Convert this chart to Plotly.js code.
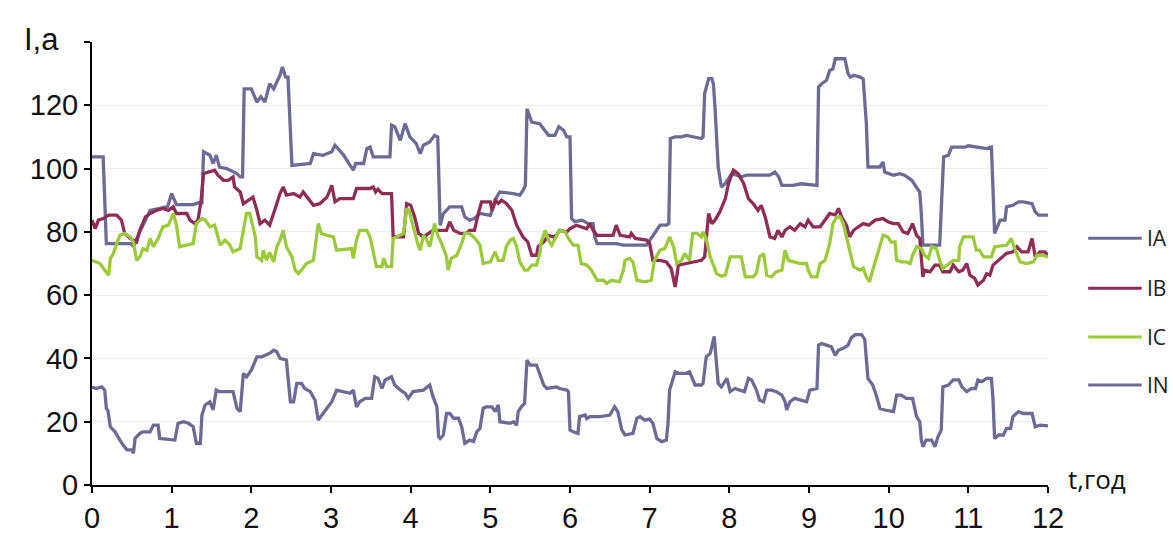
<!DOCTYPE html>
<html>
<head>
<meta charset="utf-8">
<script src="https://cdn.plot.ly/plotly-3.0.1.min.js"></script>
<style>html,body{margin:0;padding:0;background:#fff;}#chart{width:1173px;height:542px;}</style>
</head>
<body>
<div id="chart"></div>
<script>
// Series as [t (hours), current (A)] pairs
const seriesNames = ["IA", "IB", "IC", "IN"];
const seriesColors = ["#6b6b96", "#8e2d56", "#9bcb3b", "#6b6b96"];

const iaPoints = [[0,103.7],[0.14,103.7],[0.16,90],[0.18,76.3],[0.48,76.3],[0.52,75.5],[0.6,80],[0.73,86.8],[0.85,87.4],[0.95,88],[1.0,92.1],[1.06,88.6],[1.27,88.6],[1.34,89.2],[1.38,89.2],[1.4,105.3],[1.48,104.2],[1.52,101.6],[1.56,104.2],[1.6,100.5],[1.69,100],[1.77,98.9],[1.82,98.4],[1.86,97.4],[1.89,97.4],[1.91,125.2],[2.0,125.2],[2.07,121],[2.12,122.7],[2.17,121],[2.23,126.8],[2.28,125.2],[2.36,129.5],[2.39,132.1],[2.43,128.9],[2.46,128.9],[2.49,115],[2.51,101],[2.74,101.6],[2.78,104.7],[2.9,104.2],[3.01,105.3],[3.05,107.4],[3.1,105.8],[3.16,104.2],[3.24,101],[3.28,99.5],[3.31,101.6],[3.41,101.6],[3.45,106.3],[3.49,106.8],[3.53,103.7],[3.74,103.7],[3.76,113.7],[3.8,113.2],[3.87,108.9],[3.93,114.2],[3.99,110],[4.03,108.9],[4.07,107.9],[4.12,104.7],[4.16,107.4],[4.24,108.4],[4.3,110.5],[4.34,110],[4.37,82.1],[4.41,85.8],[4.49,87.9],[4.64,87.9],[4.68,84.7],[4.74,83.7],[4.8,84.2],[4.87,85.8],[5.0,85.2],[5.04,87.9],[5.08,91],[5.12,92.6],[5.29,92.1],[5.37,91.6],[5.41,93.1],[5.44,94.7],[5.46,118.9],[5.48,117.5],[5.52,114.7],[5.62,114.2],[5.67,112.6],[5.73,110.5],[5.81,110.5],[5.86,113.2],[5.92,112.1],[5.96,110],[6.0,110],[6.02,84.2],[6.06,83.2],[6.15,83.7],[6.23,82.6],[6.29,82.6],[6.31,78.4],[6.34,76.3],[6.58,76.3],[6.67,75.8],[6.96,75.8],[7.03,78.4],[7.09,80.5],[7.13,82.1],[7.21,82.1],[7.24,82.6],[7.26,109.5],[7.32,110],[7.4,110],[7.46,110.5],[7.65,109.5],[7.67,110],[7.69,123.7],[7.74,128.4],[7.78,128.4],[7.8,126.8],[7.82,119.5],[7.86,100.5],[7.9,94.2],[7.95,95.3],[8.03,98.4],[8.15,97.4],[8.22,97.9],[8.51,97.9],[8.57,98.9],[8.62,97.4],[8.66,94.7],[8.8,94.7],[8.9,95.2],[9.1,94.7],[9.12,125.8],[9.16,126.8],[9.22,127.9],[9.26,131],[9.3,131.5],[9.33,134.7],[9.45,134.7],[9.47,132.6],[9.49,130],[9.52,128.9],[9.56,129.5],[9.64,128.9],[9.68,128.4],[9.72,114.2],[9.74,100.5],[9.89,100.5],[9.93,102.1],[9.95,98.9],[10.06,97.9],[10.14,98.4],[10.2,97.9],[10.29,96.3],[10.35,94.2],[10.39,92.6],[10.41,85.8],[10.43,75.8],[10.64,75.8],[10.67,90],[10.69,103.7],[10.75,104.2],[10.79,106.8],[10.96,106.8],[11.0,107.2],[11.23,106.3],[11.29,106.8],[11.31,93.1],[11.33,79.5],[11.4,83.7],[11.46,83.7],[11.48,87.9],[11.56,88.4],[11.63,89.5],[11.69,89.5],[11.8,88.9],[11.84,86.3],[11.88,85.3],[12.0,85.3]];

const ibPoints = [[0,83.7],[0.04,81],[0.08,83.7],[0.14,84.2],[0.21,85.3],[0.31,85.3],[0.37,83.7],[0.41,79.5],[0.48,77.9],[0.56,76.8],[0.6,80.5],[0.67,84.7],[0.73,85.8],[0.81,86.8],[0.89,87.4],[0.96,86.8],[1.02,87.9],[1.06,85.8],[1.19,85.8],[1.23,83.7],[1.29,82.6],[1.33,83.7],[1.37,90],[1.4,98.4],[1.46,98.9],[1.54,99.5],[1.58,97.9],[1.65,96.3],[1.71,96.3],[1.77,97.4],[1.79,94.2],[1.86,92.6],[1.9,88.9],[1.96,90],[2.02,91],[2.07,86.8],[2.11,82.6],[2.17,83.7],[2.23,82.1],[2.3,87.4],[2.36,92.1],[2.4,94.2],[2.44,91.6],[2.53,92.1],[2.61,91],[2.65,92.6],[2.71,90.5],[2.78,88.4],[2.86,88.9],[2.95,91],[3.01,94.7],[3.05,89.5],[3.11,90.5],[3.28,90.5],[3.32,93.7],[3.49,93.7],[3.53,94.2],[3.56,92.6],[3.59,93.5],[3.64,92.1],[3.76,92.1],[3.78,78.4],[3.91,78.4],[3.95,88.9],[4.0,88.4],[4.05,84.7],[4.1,79.5],[4.16,78.4],[4.28,80.5],[4.45,80.5],[4.49,83.2],[4.54,80.5],[4.62,79.5],[4.7,79.5],[4.74,80.5],[4.8,80.5],[4.85,85.8],[4.89,89.5],[5.0,89.5],[5.02,86.8],[5.06,90],[5.1,89],[5.14,90],[5.2,89],[5.27,86.8],[5.33,82.1],[5.41,78.4],[5.47,76.8],[5.52,72.6],[5.58,72.6],[5.6,75.3],[5.67,76.8],[5.73,78.9],[5.79,78.4],[5.83,78.9],[5.87,80.5],[5.96,80],[6.0,81],[6.08,82.1],[6.14,81.6],[6.21,81],[6.25,82.6],[6.29,80.5],[6.34,78.9],[6.54,78.9],[6.58,82.1],[6.63,78.9],[6.75,78.4],[6.77,79.5],[6.82,77.9],[6.96,77.4],[7.0,76.3],[7.04,71],[7.13,71],[7.21,70.5],[7.27,68.4],[7.32,62.6],[7.34,65.8],[7.36,69.5],[7.46,70],[7.55,70.5],[7.65,71],[7.69,72.1],[7.74,85.8],[7.78,82.6],[7.82,83.7],[7.88,86.3],[7.95,90.5],[7.99,95.3],[8.05,99.5],[8.11,98.4],[8.18,95.3],[8.24,90.5],[8.3,88.9],[8.36,86.8],[8.4,88.4],[8.45,84.7],[8.49,80.5],[8.51,78.4],[8.57,77.9],[8.61,80.5],[8.66,78.4],[8.7,80.5],[8.76,81.6],[8.82,80.5],[8.89,82.6],[8.95,81.6],[8.99,83.7],[9.05,81.6],[9.14,81.6],[9.22,84.7],[9.26,85.8],[9.33,85.3],[9.37,87.4],[9.41,84.7],[9.47,82.1],[9.51,78.4],[9.56,80.5],[9.62,81.6],[9.68,82.6],[9.75,82.1],[9.83,83.7],[9.93,84.2],[9.99,83.2],[10.06,82.6],[10.12,82.6],[10.18,80],[10.24,79.5],[10.3,82.6],[10.35,78.9],[10.39,77.9],[10.43,65.8],[10.45,67.9],[10.52,67.4],[10.58,69.5],[10.64,69.5],[10.68,67.4],[10.77,67.4],[10.81,69.5],[10.88,67.4],[10.93,67.9],[10.98,70],[11.02,66.3],[11.08,65.3],[11.12,63.2],[11.19,64.7],[11.23,66.8],[11.27,66.3],[11.31,69.5],[11.4,71.6],[11.48,73.2],[11.56,73.7],[11.61,75.3],[11.67,73.7],[11.75,73.7],[11.8,77.9],[11.84,72.1],[11.9,73.7],[11.96,73.7],[12.0,72.6]];

const icPoints = [[0,71],[0.1,70],[0.16,67.9],[0.21,66.3],[0.23,71.6],[0.27,73.2],[0.31,76.3],[0.35,78.9],[0.41,79.5],[0.48,78.4],[0.52,76.8],[0.56,71],[0.6,72.1],[0.64,74.7],[0.69,74.2],[0.73,77.9],[0.77,75.3],[0.83,77.9],[0.89,81.6],[0.96,82.1],[1.02,85.8],[1.06,82.1],[1.1,75.3],[1.19,75.8],[1.27,76.3],[1.31,82.6],[1.38,84.2],[1.42,83.7],[1.48,81.6],[1.54,82.1],[1.59,77.9],[1.61,75.8],[1.67,77.4],[1.73,75.8],[1.77,73.7],[1.86,74.7],[1.9,80.5],[1.94,85.8],[1.98,85.8],[2.0,83.7],[2.05,78.4],[2.07,72.1],[2.13,71],[2.15,74.2],[2.19,71],[2.23,73.5],[2.28,70.5],[2.32,75.3],[2.36,77.4],[2.4,80.5],[2.44,75.3],[2.51,72.1],[2.55,67.9],[2.59,66.8],[2.63,67.9],[2.69,70],[2.78,71],[2.84,82.6],[2.88,79.5],[2.95,78.9],[3.03,78.4],[3.07,74.2],[3.2,74.7],[3.26,74.7],[3.28,71.6],[3.32,77.4],[3.36,80.5],[3.45,80.5],[3.49,78.4],[3.53,73.7],[3.57,69],[3.64,69],[3.66,71.6],[3.7,69],[3.76,69],[3.78,77.9],[3.85,78.9],[3.91,79.5],[3.95,87.4],[3.98,86.8],[4.01,83.7],[4.05,79.5],[4.1,75.3],[4.12,74.2],[4.16,78.9],[4.2,77.5],[4.24,75.3],[4.3,82.6],[4.34,78.9],[4.39,76.3],[4.45,72.1],[4.47,67.9],[4.51,71.6],[4.58,72.6],[4.64,76.3],[4.68,79.5],[4.74,79.5],[4.81,77.9],[4.87,75.8],[4.91,70],[5.0,70.5],[5.06,73.7],[5.1,71],[5.16,71],[5.2,75.3],[5.25,77.4],[5.29,77.9],[5.33,75.3],[5.37,70.5],[5.43,67.9],[5.47,67.9],[5.52,69.5],[5.58,69.5],[5.62,73.2],[5.64,76.8],[5.69,80.5],[5.73,77.4],[5.77,75.8],[5.81,77.9],[5.87,80.5],[5.94,80],[5.98,77.9],[6.04,75.8],[6.1,75.8],[6.14,70],[6.21,69.5],[6.27,67.9],[6.34,64.7],[6.42,64.7],[6.46,63.7],[6.52,64.7],[6.62,64.2],[6.67,67.9],[6.69,71],[6.75,71.6],[6.79,70.5],[6.84,64.7],[6.94,64.2],[7.02,64.7],[7.06,71],[7.13,74.2],[7.19,74.7],[7.25,78.4],[7.3,75.3],[7.34,70],[7.4,71],[7.44,73.2],[7.5,71],[7.54,79.5],[7.6,79.5],[7.65,78.4],[7.67,80],[7.71,77.9],[7.76,72.1],[7.8,69.5],[7.84,66.8],[7.9,66],[7.95,66.3],[8.01,72.1],[8.15,72.1],[8.2,65.8],[8.3,65.8],[8.34,67],[8.38,72.1],[8.43,73.2],[8.47,66.3],[8.53,65.8],[8.59,67.4],[8.66,67.9],[8.7,74.2],[8.74,71],[8.82,70.5],[8.89,70],[8.97,70],[8.99,67.9],[9.03,65.8],[9.1,65.8],[9.14,70],[9.2,71],[9.26,76.3],[9.3,82.6],[9.35,84.7],[9.39,84.7],[9.43,82.6],[9.47,78.4],[9.51,73.2],[9.56,69],[9.64,67.9],[9.68,68.5],[9.72,65.8],[9.76,64.2],[9.8,67.9],[9.85,72.1],[9.89,75.8],[9.93,78.9],[9.99,78.4],[10.03,76.8],[10.08,76.8],[10.1,71],[10.16,70.5],[10.22,70.5],[10.27,70],[10.3,72.6],[10.35,75.3],[10.41,74.7],[10.45,72.6],[10.5,71.6],[10.54,75.3],[10.6,74.7],[10.64,71],[10.68,68.4],[10.81,71],[10.88,71],[10.89,75.3],[10.94,78.4],[11.06,78.4],[11.1,74.2],[11.14,74.2],[11.19,72.1],[11.29,72.1],[11.33,75.3],[11.48,75.8],[11.54,77.9],[11.59,74.2],[11.65,70.5],[11.73,70],[11.82,70.5],[11.86,72.6],[11.92,72.6],[12.0,72.1]];

const inPoints = [[0,31],[0.05,30.5],[0.12,31],[0.16,30],[0.18,24.2],[0.2,23.5],[0.23,18.4],[0.29,16.8],[0.35,14.2],[0.39,12.6],[0.44,11.1],[0.5,11.1],[0.52,10],[0.54,14.7],[0.6,16.3],[0.64,16.8],[0.73,16.8],[0.77,18.9],[0.83,18.9],[0.85,14.7],[1.04,14.2],[1.08,19.5],[1.15,20],[1.21,19.5],[1.27,18.4],[1.31,13.2],[1.36,13.2],[1.38,22.1],[1.42,25.3],[1.48,26.3],[1.52,23.7],[1.56,30],[1.6,29.5],[1.77,29.5],[1.82,24.2],[1.86,23.2],[1.9,35.3],[1.94,34.2],[2.0,36.3],[2.07,40.5],[2.13,40.5],[2.17,41],[2.23,41.6],[2.28,42.6],[2.32,42.1],[2.36,40],[2.44,39.5],[2.49,26.3],[2.53,26.3],[2.57,32.1],[2.63,32.1],[2.67,30.5],[2.74,29.5],[2.8,26.8],[2.84,20.5],[2.9,22.6],[2.95,24.2],[3.01,26.3],[3.07,30],[3.16,29.5],[3.24,29],[3.28,30],[3.32,24.7],[3.36,26.3],[3.43,27.4],[3.51,27.4],[3.55,34.2],[3.59,33.7],[3.64,30.5],[3.68,33.2],[3.76,34.2],[3.8,31.6],[3.87,30],[3.93,29],[3.97,27.4],[4.03,29.5],[4.16,30],[4.24,31.6],[4.28,27.9],[4.33,24.7],[4.35,15.3],[4.37,14.7],[4.41,15.8],[4.45,22.6],[4.49,22.6],[4.54,21.1],[4.6,21.1],[4.64,18.4],[4.68,13.2],[4.74,14.2],[4.79,13.8],[4.83,16.8],[4.87,17.9],[4.91,24.2],[4.95,24.7],[5.02,24.7],[5.06,23.2],[5.1,25.3],[5.12,20],[5.25,19.5],[5.29,20],[5.33,18.9],[5.35,23.2],[5.39,24.7],[5.43,25.8],[5.46,39.5],[5.5,37.9],[5.58,37.9],[5.62,35.3],[5.67,31.6],[5.71,30.5],[5.83,31],[5.87,30.5],[5.96,30],[5.98,29.5],[6.0,17.4],[6.04,16.8],[6.1,16.3],[6.12,21.6],[6.19,22.1],[6.21,21],[6.25,21.6],[6.38,21.6],[6.5,22.1],[6.56,24.7],[6.6,23.2],[6.65,17.4],[6.69,15.8],[6.79,16.3],[6.84,21.1],[6.88,21.6],[6.94,20.5],[7.0,20.8],[7.04,19.5],[7.09,14.7],[7.15,13.7],[7.21,14.2],[7.23,19.5],[7.25,30],[7.32,35.8],[7.36,35.3],[7.46,35.3],[7.5,35.8],[7.54,33.2],[7.57,31.6],[7.65,31.6],[7.67,32.1],[7.71,40.5],[7.76,41.6],[7.81,47],[7.83,39.5],[7.86,32.1],[7.9,31],[7.97,33.7],[8.01,29.5],[8.07,30.5],[8.13,30],[8.19,29.5],[8.24,33.7],[8.28,33.2],[8.34,30],[8.38,26.8],[8.43,26.3],[8.47,30],[8.53,30],[8.59,29.5],[8.66,28.4],[8.7,26.3],[8.72,23.7],[8.76,26.3],[8.82,27.4],[8.89,26.8],[8.97,26.3],[9.01,30],[9.07,30.5],[9.1,30.5],[9.12,44.2],[9.16,44.7],[9.22,44.2],[9.28,43.7],[9.33,41],[9.37,42.6],[9.43,43.2],[9.49,44.2],[9.53,46.5],[9.58,47.5],[9.66,47.5],[9.7,46],[9.74,33.7],[9.8,31.6],[9.85,27.9],[9.89,24.2],[9.95,23.7],[10.06,23.2],[10.1,28.4],[10.16,28.4],[10.22,27.4],[10.3,27.4],[10.35,21.6],[10.39,20],[10.41,14.2],[10.43,12.1],[10.47,14.2],[10.54,14.2],[10.58,12.1],[10.62,15.3],[10.66,17.4],[10.68,31],[10.75,31.6],[10.81,33.2],[10.88,33.2],[10.92,31],[10.98,29.5],[11.04,30.5],[11.09,30.5],[11.12,33.2],[11.17,32.7],[11.23,33.7],[11.29,33.7],[11.31,26.8],[11.33,14.7],[11.38,15.8],[11.44,15.8],[11.48,17.9],[11.53,17.9],[11.56,21.6],[11.63,23.2],[11.69,22.6],[11.8,22.6],[11.84,18.4],[11.9,18.9],[12.0,18.7]];

const yTickVals = [0, 20, 40, 60, 80, 100, 120, 140];
const yTickText = ["0", "20", "40", "60", "80", "100", "120", ""];
const xTickVals = [0,1,2,3,4,5,6,7,8,9,10,11,12];
const xTickText = ["0","1","2","3","4","5","6","7","8","9","10","11","12"];

const allPoints = [iaPoints, ibPoints, icPoints, inPoints];

const traces = allPoints.map((pts, i) => ({
  type: "scatter",
  mode: "lines",
  name: seriesNames[i],
  x: pts.map(p => p[0]),
  y: pts.map(p => p[1]),
  line: { color: seriesColors[i], width: 3.3 },
  showlegend: false,
  hoverinfo: "x+y+name"
}));

// Manual legend (long line samples like the original)
const legendY = [0.557, 0.444, 0.334, 0.226];
const shapes = [];
const annotations = [];
seriesNames.forEach((n, i) => {
  shapes.push({ type: "line", xref: "paper", yref: "paper",
    x0: 1.042, x1: 1.098, y0: legendY[i], y1: legendY[i],
    line: { color: seriesColors[i], width: 3 } });
  annotations.push({ xref: "paper", yref: "paper", x: 1.101, y: legendY[i],
    xanchor: "left", yanchor: "middle", showarrow: false, text: n,
    font: { family: "Open Sans, sans-serif", size: 21, color: "#222" } });
});
annotations.push({ xref: "paper", yref: "paper", x: -0.073, y: 1.005,
  xanchor: "left", yanchor: "middle", showarrow: false, text: "I,a",
  font: { family: "Liberation Sans, Arial, sans-serif", size: 31, color: "#111" } });
annotations.push({ xref: "paper", yref: "paper", x: 1.019, y: 0.014,
  xanchor: "left", yanchor: "middle", showarrow: false, text: "t,год",
  font: { family: "Open Sans, sans-serif", size: 26, color: "#111" } });

const layout = {
  width: 1173, height: 542,
  margin: { l: 92, r: 125, t: 42, b: 57 },
  paper_bgcolor: "#ffffff", plot_bgcolor: "#ffffff",
  showlegend: false,
  xaxis: {
    range: [0, 12], tickvals: xTickVals, ticktext: xTickText,
    showline: true, linecolor: "#000", linewidth: 2,
    ticks: "outside", ticklen: 6, tickwidth: 2, tickcolor: "#000",
    showgrid: false, zeroline: false,
    tickfont: { family: "Liberation Sans, Arial, sans-serif", size: 29, color: "#111" }
  },
  yaxis: {
    range: [0, 140], tickvals: yTickVals, ticktext: yTickText,
    showline: true, linecolor: "#000", linewidth: 2,
    ticks: "outside", ticklen: 6, tickwidth: 2, tickcolor: "#000",
    showgrid: true, gridcolor: "#efefef", gridwidth: 1, zeroline: false,
    tickfont: { family: "Liberation Sans, Arial, sans-serif", size: 29, color: "#111" }
  },
  shapes: shapes,
  annotations: annotations
};

Plotly.newPlot("chart", traces, layout, { displayModeBar: false, staticPlot: true });
</script>
</body>
</html>
